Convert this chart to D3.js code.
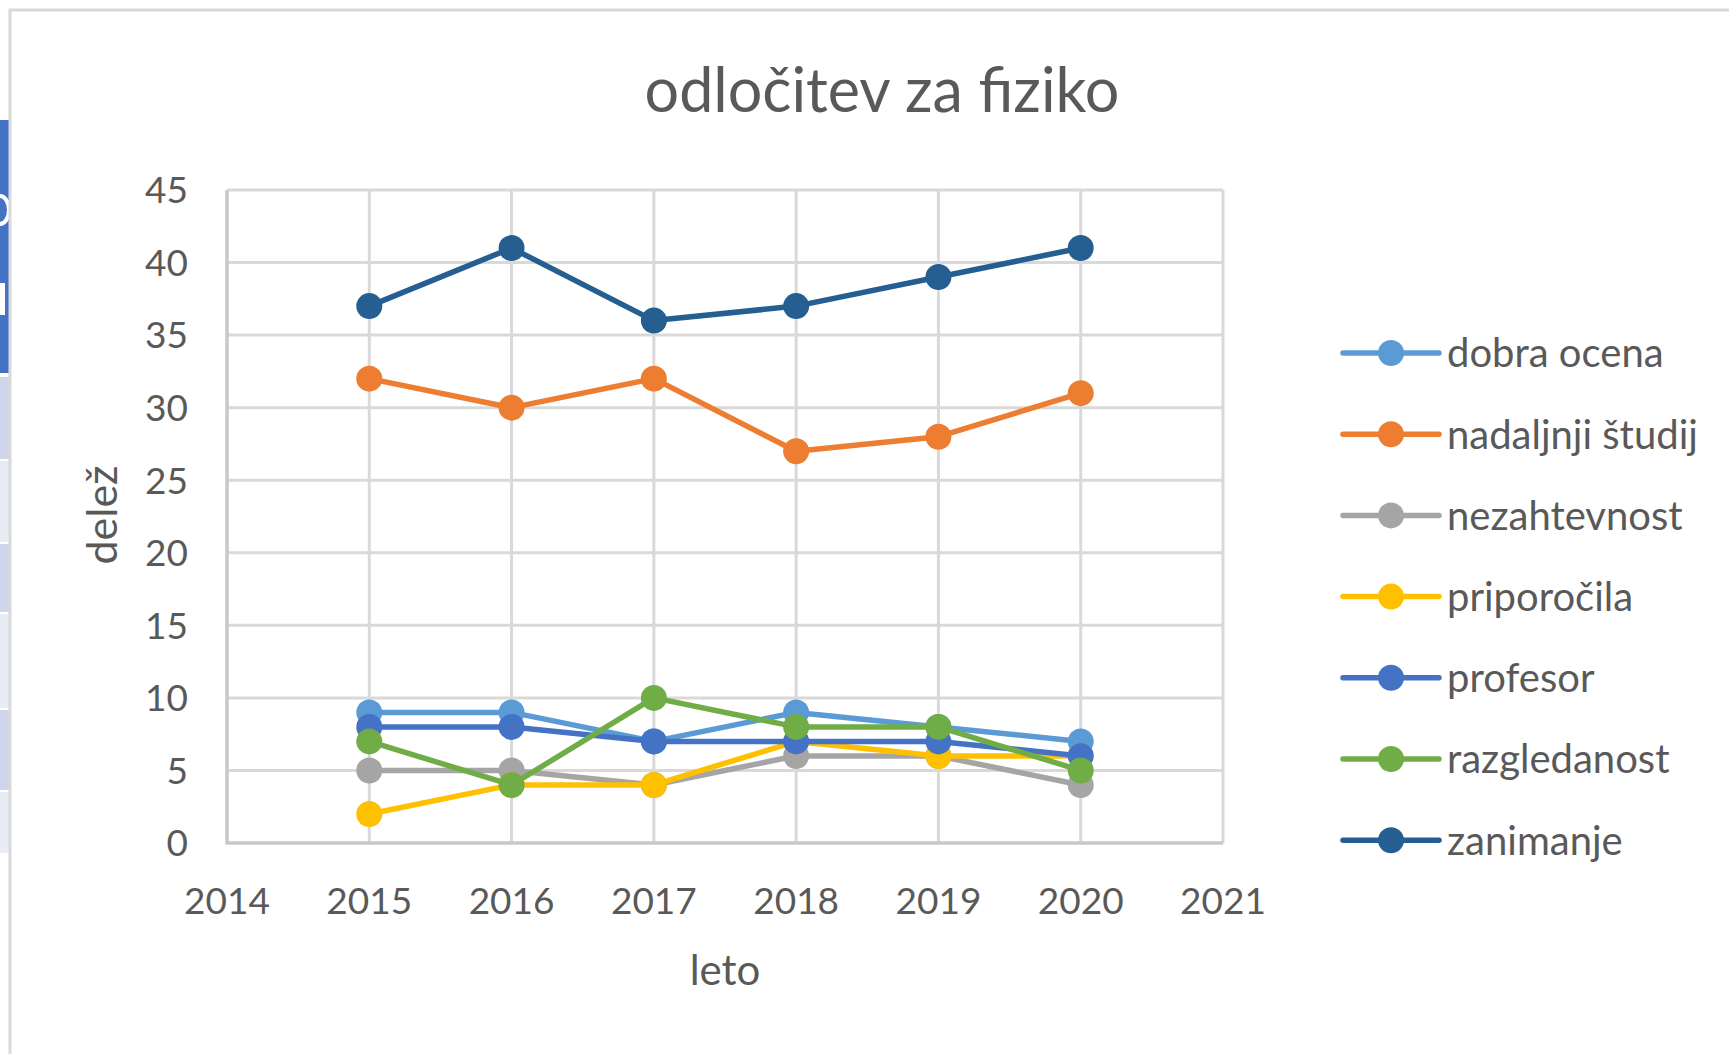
<!DOCTYPE html>
<html>
<head>
<meta charset="utf-8">
<script src="https://cdn.jsdelivr.net/npm/d3@7"></script>
<style>
  html, body { margin: 0; padding: 0; background: #fff; overflow: hidden; }
  svg { display: block; font-family: Lato, "Open Sans", sans-serif; }
</style>
</head>
<body>
<script>
// chart data
var years = [2015, 2016, 2017, 2018, 2019, 2020];
var seriesNames = ["dobra ocena", "nadaljnji študij", "nezahtevnost", "priporočila", "profesor", "razgledanost", "zanimanje"];
var seriesColors = ["#5B9BD5", "#ED7D31", "#A5A5A5", "#FFC000", "#4472C4", "#70AD47", "#255E91"];
var dobraOcena = [9, 9, 7, 9, 8, 7];
var nadaljnjiStudij = [32, 30, 32, 27, 28, 31];
var nezahtevnost = [5, 5, 4, 6, 6, 4];
var priporocila = [2, 4, 4, 7, 6, 6];
var profesor = [8, 8, 7, 7, 7, 6];
var razgledanost = [7, 4, 10, 8, 8, 5];
var zanimanje = [37, 41, 36, 37, 39, 41];
var yTicks = [0, 5, 10, 15, 20, 25, 30, 35, 40, 45];
var xTicks = [2014, 2015, 2016, 2017, 2018, 2019, 2020, 2021];

var seriesValues = [dobraOcena, nadaljnjiStudij, nezahtevnost, priporocila, profesor, razgledanost, zanimanje];

var W = 1729, H = 1054;
var textColor = "#595959";

var svg = d3.select("body").append("svg")
  .attr("width", W)
  .attr("height", H);

// bit of the spreadsheet peeking out on the left
var sheet = svg.append("g").attr("class", "sheet");
sheet.append("rect").attr("x", 0).attr("y", 120).attr("width", 9).attr("height", 253).attr("fill", "#4472C4");
sheet.append("path").attr("d", "M0,196 A9,14 0 0 1 0,224").attr("fill", "none").attr("stroke", "#fff").attr("stroke-width", 4);
sheet.append("rect").attr("x", 0).attr("y", 283).attr("width", 5).attr("height", 32).attr("fill", "#fff");
var rowEdges = [375, 459, 542, 612, 708, 790, 853];
for (var i = 0; i < rowEdges.length - 1; i++) {
  sheet.append("rect")
    .attr("x", 0).attr("y", rowEdges[i] + 2)
    .attr("width", 9).attr("height", rowEdges[i + 1] - rowEdges[i] - 2)
    .attr("fill", i % 2 ? "#E9EBF5" : "#CFD5EA");
}

// chart frame
svg.append("rect")
  .attr("x", 10).attr("y", 10)
  .attr("width", W + 20).attr("height", H + 20)
  .attr("fill", "none")
  .attr("stroke", "#d9d9d9")
  .attr("stroke-width", 3);

var x = d3.scaleLinear().domain([2014, 2021]).range([227, 1223]);
var y = d3.scaleLinear().domain([0, 45]).range([843, 190]);

// grid
var grid = svg.append("g").attr("class", "grid");
grid.selectAll("line.h").data(yTicks.slice(1)).enter().append("line")
  .attr("class", "h")
  .attr("x1", x(2014)).attr("x2", x(2021))
  .attr("y1", d => y(d)).attr("y2", d => y(d))
  .attr("stroke", "#d9d9d9").attr("stroke-width", 3);
grid.selectAll("line.v").data(xTicks.slice(1)).enter().append("line")
  .attr("class", "v")
  .attr("x1", d => x(d)).attr("x2", d => x(d))
  .attr("y1", y(0)).attr("y2", y(45))
  .attr("stroke", "#d9d9d9").attr("stroke-width", 3);

// axis lines
svg.append("line")
  .attr("x1", x(2014)).attr("x2", x(2014)).attr("y1", y(0) + 1.5).attr("y2", y(45))
  .attr("stroke", "#c8c8c8").attr("stroke-width", 3.5);
svg.append("line")
  .attr("x1", x(2014)).attr("x2", x(2021)).attr("y1", y(0)).attr("y2", y(0))
  .attr("stroke", "#c8c8c8").attr("stroke-width", 3.5);

// tick labels
svg.append("g").selectAll("text").data(yTicks).enter().append("text")
  .attr("x", 188).attr("y", d => y(d))
  .attr("dy", "0.36em")
  .attr("text-anchor", "end")
  .attr("font-size", 37)
  .attr("fill", textColor)
  .text(d => d);
svg.append("g").selectAll("text").data(xTicks).enter().append("text")
  .attr("x", d => x(d)).attr("y", 914)
  .attr("text-anchor", "middle")
  .attr("font-size", 37)
  .attr("fill", textColor)
  .text(d => d);

// titles
svg.append("text")
  .attr("x", 882).attr("y", 112)
  .attr("text-anchor", "middle")
  .attr("font-size", 61)
  .attr("fill", textColor)
  .text("odločitev za fiziko");
svg.append("text")
  .attr("x", 725).attr("y", 985)
  .attr("text-anchor", "middle")
  .attr("font-size", 42)
  .attr("fill", textColor)
  .text("leto");
svg.append("text")
  .attr("transform", "translate(117,515) rotate(-90)")
  .attr("text-anchor", "middle")
  .attr("font-size", 43)
  .attr("fill", textColor)
  .text("delež");

// series
var line = d3.line().x((d, i) => x(years[i])).y(d => y(d));
seriesValues.forEach(function (vals, s) {
  var g = svg.append("g").attr("class", "series");
  g.append("path")
    .attr("d", line(vals))
    .attr("fill", "none")
    .attr("stroke", seriesColors[s])
    .attr("stroke-width", 5.5)
    .attr("stroke-linejoin", "round");
  g.selectAll("circle").data(vals).enter().append("circle")
    .attr("cx", (d, i) => x(years[i]))
    .attr("cy", d => y(d))
    .attr("r", 13)
    .attr("fill", seriesColors[s]);
});

// legend
var legend = svg.append("g").attr("class", "legend");
var item = legend.selectAll("g").data(seriesNames).enter().append("g")
  .attr("transform", (d, i) => "translate(0," + (353 + i * 81.2) + ")");
item.append("line")
  .attr("x1", 1343).attr("x2", 1439)
  .attr("stroke", (d, i) => seriesColors[i])
  .attr("stroke-width", 5.5)
  .attr("stroke-linecap", "round");
item.append("circle")
  .attr("cx", 1391).attr("r", 13)
  .attr("fill", (d, i) => seriesColors[i]);
item.append("text")
  .attr("x", 1447).attr("dy", "0.36em")
  .attr("font-size", 40)
  .attr("fill", textColor)
  .text(d => d);
</script>
</body>
</html>
